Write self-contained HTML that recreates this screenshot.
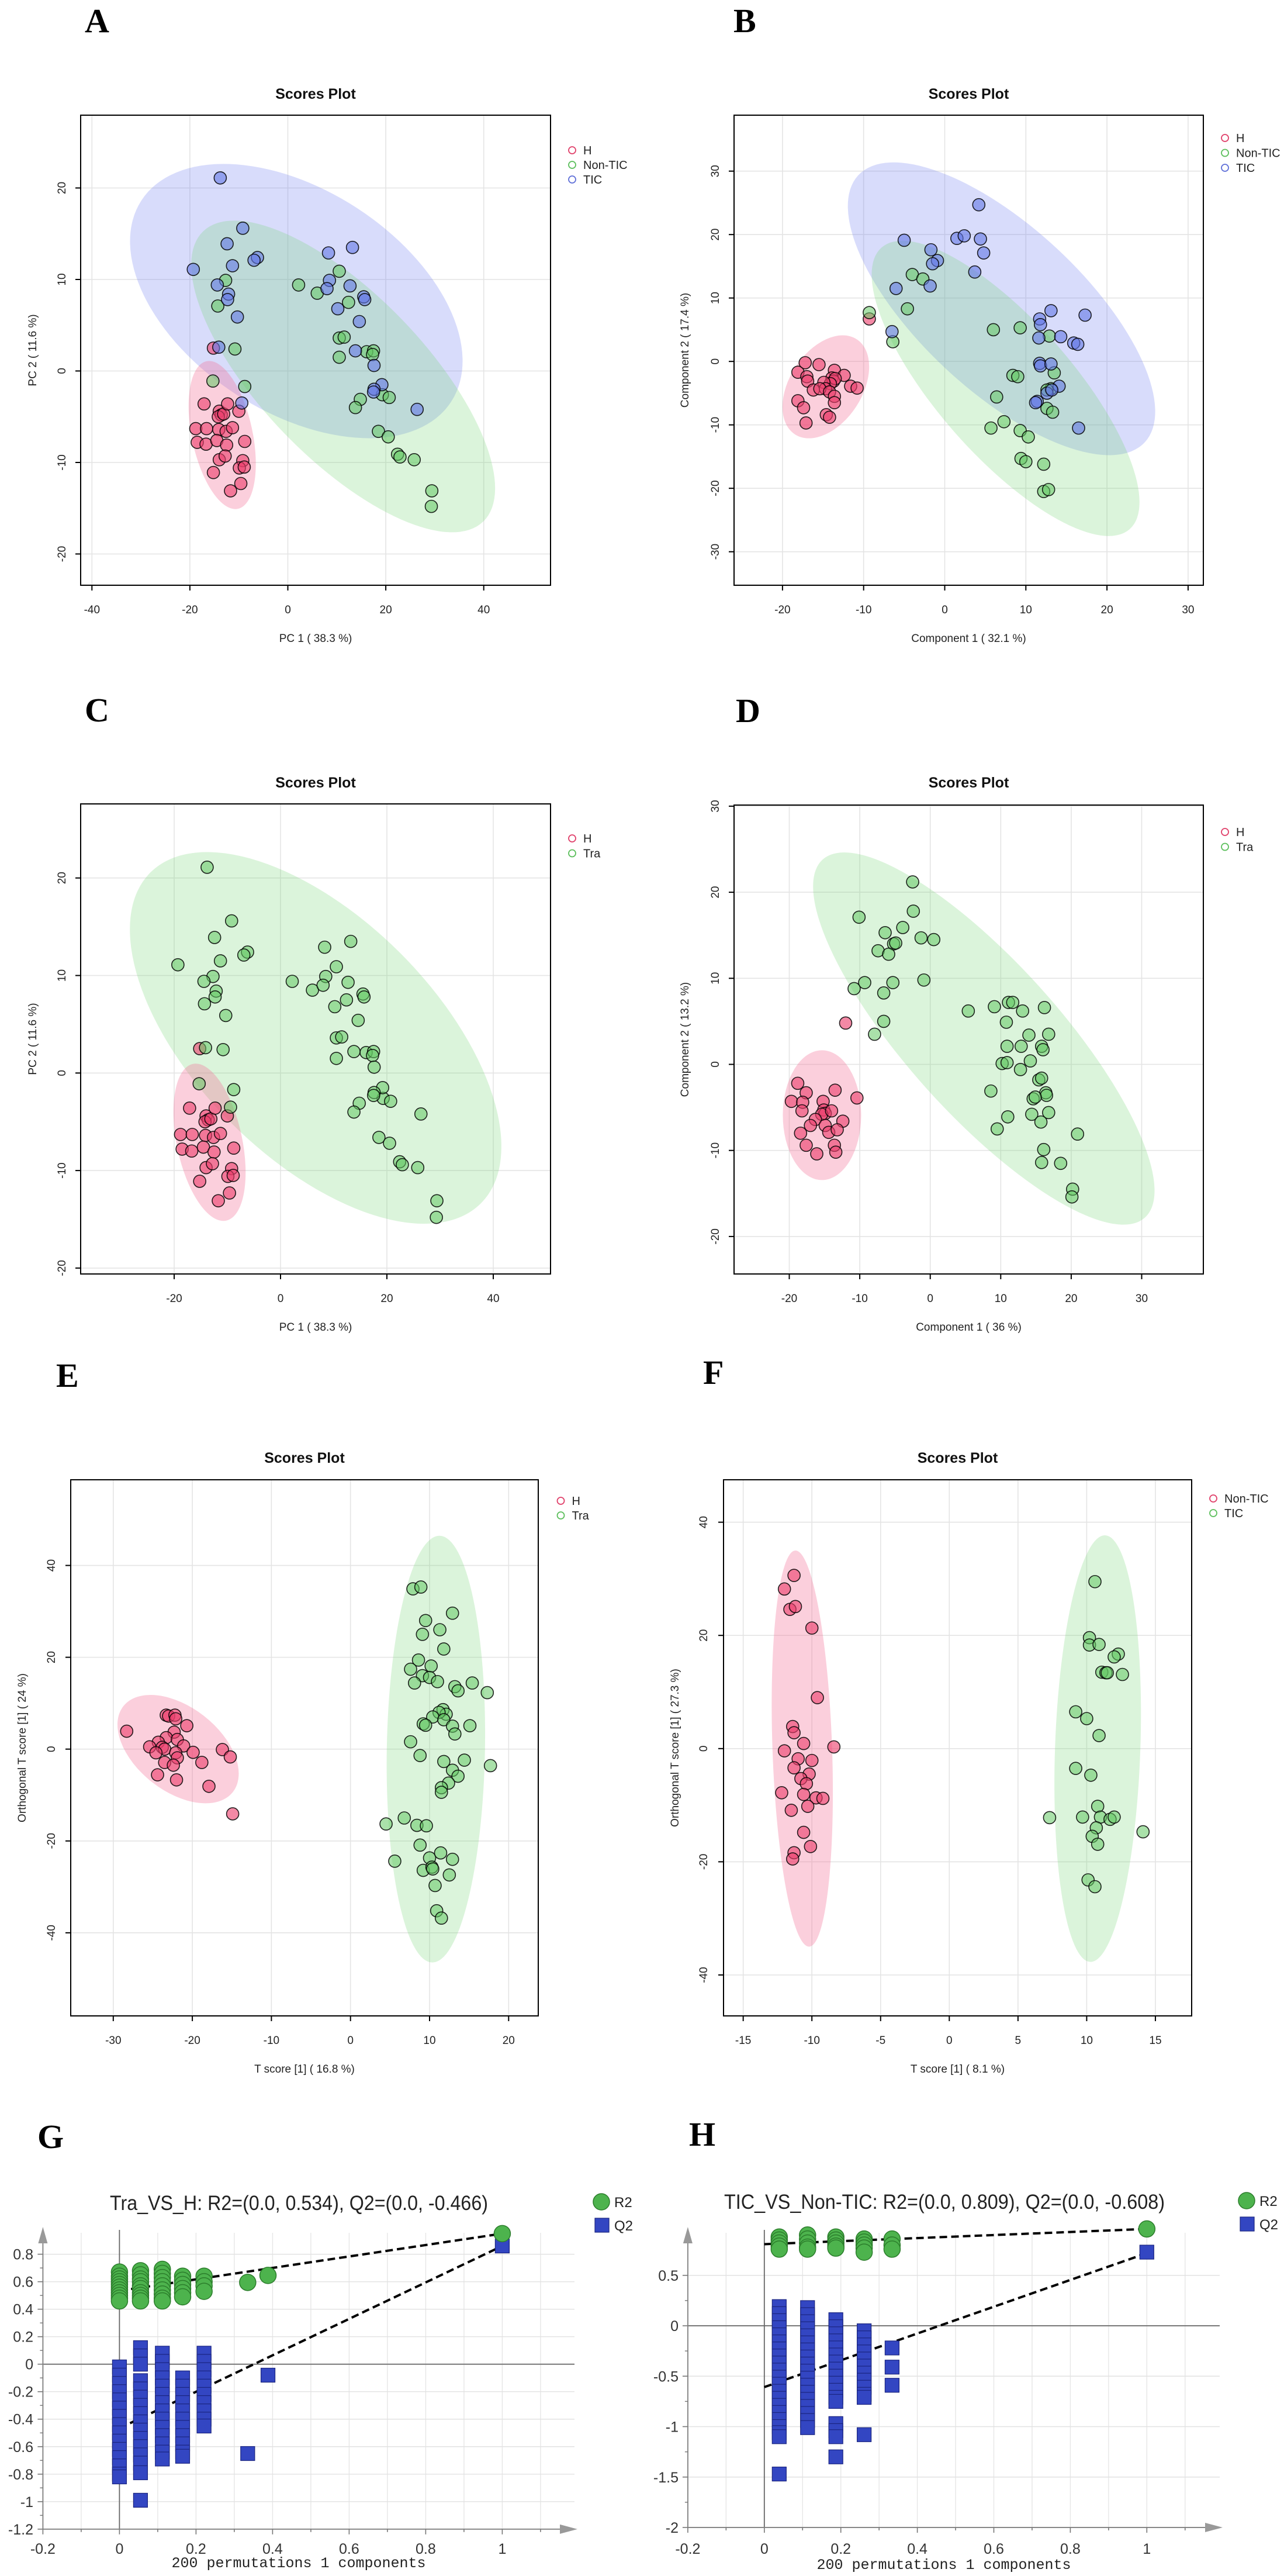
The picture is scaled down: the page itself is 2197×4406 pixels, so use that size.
<!DOCTYPE html>
<html><head><meta charset="utf-8"><title>Scores plots and permutation tests</title>
<style>
html,body{margin:0;padding:0;background:#fff;}
svg{display:block;font-family:"Liberation Sans",Arial,sans-serif;}
</style></head>
<body>
<svg id="fig" width="2197" height="4406" viewBox="0 0 2197 4406" xmlns="http://www.w3.org/2000/svg">
<rect x="0" y="0" width="2197" height="4406" fill="#fff"/>
</svg>
<script>
// ---------- Panel A (PCA, 3 groups) ----------
const A_H_x = [-15.2,-17.1,-14.0,-13.6,-14.2,-13.1,-12.3,-10.0,-18.8,-16.6,-14.1,-12.6,-11.3,-18.5,-16.7,-14.5,-12.5,-8.8,-14.0,-12.8,-9.2,-9.9,-8.9,-15.2,-9.6,-11.7];
const A_H_y = [2.5,-3.6,-4.4,-4.8,-5.0,-4.7,-3.6,-4.4,-6.3,-6.3,-6.4,-6.6,-6.2,-7.8,-8.0,-7.6,-8.1,-7.7,-9.7,-9.3,-9.8,-10.6,-10.5,-11.1,-12.3,-13.1];
const A_N_x = [-12.7,-14.3,-10.8,-15.3,-8.8,2.2,6.0,10.5,12.4,10.5,11.5,10.5,16.1,17.5,17.3,14.8,13.8,19.3,20.7,18.5,20.5,22.4,22.9,25.8,29.4,29.3];
const A_N_y = [9.9,7.1,2.4,-1.1,-1.7,9.4,8.5,10.9,7.5,3.6,3.7,1.5,2.1,2.2,1.8,-3.1,-4.0,-2.6,-2.9,-6.6,-7.2,-9.1,-9.4,-9.7,-13.1,-14.8];
const A_T_x = [-13.8,-9.2,-12.4,-6.2,-6.9,-19.3,-11.3,-14.4,-12.1,-12.3,-10.3,-14.1,-9.4,8.3,13.2,8.5,8.0,12.7,15.5,15.7,10.2,14.6,13.8,17.6,19.2,17.6,17.5,26.4];
const A_T_y = [21.1,15.6,13.9,12.4,12.1,11.1,11.5,9.4,8.4,7.8,5.9,2.6,-3.5,12.9,13.5,9.9,9.0,9.3,8.1,7.8,6.8,5.4,2.2,0.6,-1.5,-2.0,-2.3,-4.2];
// ---------- Panel B (PLS-DA, 3 groups) ----------
const B_H_x = [-9.3,-17.2,-15.5,-18.1,-17.0,-16.9,-13.6,-12.4,-13.9,-13.7,-13.5,-14.1,-14.9,-14.7,-16.2,-15.4,-11.6,-10.8,-14.2,-13.6,-13.6,-18.1,-17.4,-14.6,-14.2,-17.1];
const B_H_y = [6.7,-0.2,-0.5,-1.7,-2.4,-3.1,-1.4,-2.2,-2.6,-3.1,-2.7,-3.5,-3.3,-4.3,-4.5,-4.3,-3.9,-4.2,-4.8,-5.5,-6.5,-6.2,-7.3,-8.4,-8.8,-9.7];
const B_N_x = [-9.3,-4.0,-2.7,-4.6,-6.4,6.0,9.3,12.9,13.5,8.4,9.0,13.1,12.6,6.4,12.6,13.3,7.3,5.7,9.3,10.3,9.4,10.0,12.2,12.2,12.8];
const B_N_y = [7.7,13.7,13.0,8.3,3.1,5.0,5.3,4.0,-1.8,-2.2,-2.4,-4.3,-4.5,-5.6,-7.4,-8.0,-9.5,-10.5,-10.9,-11.9,-15.3,-15.8,-16.2,-20.5,-20.2];
const B_T_x = [4.2,-5.0,1.5,2.4,4.4,4.8,-1.7,-0.9,-1.5,3.7,-1.8,-6.0,13.1,17.3,11.7,11.8,11.6,14.3,15.9,16.4,-6.5,11.7,11.8,13.1,14.1,12.6,13.2,11.4,11.2,16.5];
const B_T_y = [24.7,19.1,19.4,19.8,19.3,17.1,17.6,15.9,15.4,14.1,11.9,11.5,8.0,7.3,6.7,5.8,3.7,3.9,2.9,2.7,4.7,-0.3,-0.7,-0.4,-3.9,-5.0,-4.5,-6.3,-6.5,-10.5];
// ---------- Panel C (PCA, H vs Tra) ----------
const C_H_x = A_H_x.slice();
const C_H_y = A_H_y.slice();
const C_T_x = A_N_x.concat(A_T_x);
const C_T_y = A_N_y.concat(A_T_y);
// ---------- Panel D (PLS-DA, H vs Tra) ----------
const D_H_x = [-12.0,-18.8,-19.7,-17.6,-18.1,-18.2,-13.5,-15.2,-10.4,-15.1,-14.9,-15.4,-14.0,-16.3,-17.0,-14.9,-12.4,-14.4,-13.2,-18.4,-17.6,-13.6,-13.4,-16.1];
const D_H_y = [4.8,-2.2,-4.3,-3.3,-4.4,-5.4,-3.0,-4.3,-3.9,-5.3,-5.7,-5.8,-5.4,-6.4,-7.1,-7.1,-6.6,-7.9,-7.6,-8.0,-9.4,-9.4,-10.2,-10.4];
const D_T_x = [-2.5,-2.4,-10.1,-3.9,-6.4,-1.3,0.5,-5.2,-4.9,-7.4,-5.9,-9.3,-10.8,-5.3,-0.9,-6.6,-6.6,-7.9,5.4,9.1,11.1,11.7,13.1,16.2,10.8,14.0,16.8,10.9,12.9,15.8,16.0,10.2,10.9,14.2,12.8,15.4,15.8,8.6,16.4,16.5,14.6,14.9,16.8,14.4,11.0,15.7,9.5,20.9,16.1,15.8,18.5,20.2,20.1];
const D_T_y = [21.2,17.8,17.1,15.9,15.3,14.7,14.5,14.0,14.1,13.2,12.8,9.5,8.8,9.5,9.8,8.3,5.0,3.5,6.2,6.7,7.2,7.2,6.2,6.6,4.9,3.4,3.5,2.1,2.1,2.1,1.7,0.1,0.2,0.4,-0.6,-1.8,-1.6,-3.1,-3.3,-3.6,-4.0,-3.8,-5.6,-5.8,-6.1,-6.7,-7.5,-8.1,-9.9,-11.4,-11.5,-14.5,-15.4];
// ---------- Panel E (OPLS-DA, H vs Tra) ----------
const E_H_x = [-28.3,-23.3,-23.0,-22.2,-22.1,-20.7,-22.3,-23.3,-21.9,-24.3,-25.4,-23.8,-23.5,-21.1,-24.6,-22.1,-19.9,-21.9,-16.2,-15.2,-23.5,-22.4,-18.8,-24.4,-22.0,-17.9,-14.9];
const E_H_y = [3.9,7.4,7.2,7.4,6.6,5.1,3.7,2.5,2.1,1.5,0.5,0.4,0,0.7,-0.8,-0.8,-0.7,-1.9,-0.1,-1.7,-2.9,-3.5,-2.9,-5.6,-6.7,-8.1,-14.1];
const E_T_x = [7.9,8.9,12.9,9.5,11.3,9.1,11.8,8.6,10.2,7.6,9.1,10.0,11.0,8.1,15.4,13.2,13.6,17.3,11.7,12.1,11.2,10.4,11.8,9.2,9.5,12.9,15.1,13.2,7.6,8.8,11.8,14.4,17.7,12.9,13.6,12.4,11.5,11.5,4.5,6.8,8.4,9.6,8.8,5.6,10.0,11.4,12.9,9.2,10.3,10.4,12.5,10.7,10.9,11.5];
const E_T_y = [34.9,35.3,29.6,28.0,26.0,25.0,21.8,19.4,18.1,17.4,16.0,15.6,14.7,14.4,14.4,13.6,12.7,12.3,8.6,7.6,8.0,7.0,6.4,5.5,5.2,5.0,5.1,3.3,1.6,-1.4,-2.7,-2.4,-3.6,-4.6,-5.9,-7.4,-8.4,-9.4,-16.3,-15.0,-16.6,-16.7,-20.9,-24.4,-23.7,-22.6,-24.0,-26.4,-25.7,-26.1,-27.4,-29.7,-35.2,-36.8];
// ---------- Panel F (OPLS-DA, Non-TIC vs TIC) ----------
const F_N_x = [-11.3,-12.0,-11.6,-11.2,-10.0,-9.6,-11.4,-11.3,-10.6,-8.4,-12.0,-11.0,-10.0,-11.3,-10.2,-10.8,-10.4,-12.2,-10.6,-9.7,-9.2,-10.3,-11.5,-10.6,-10.1,-11.3,-11.4];
const F_N_y = [30.6,28.2,24.6,25.1,21.3,9.0,3.9,2.8,0.9,0.3,-0.4,-1.8,-2.1,-3.4,-4.5,-5.3,-6.2,-7.8,-8.1,-8.7,-8.8,-10.2,-10.9,-14.8,-17.3,-18.4,-19.5];
const F_T_x = [10.6,10.2,10.2,10.9,12.3,12.0,11.1,11.4,11.5,12.6,9.2,10.0,10.9,9.2,10.3,10.8,7.3,9.7,11.0,11.7,12.0,10.7,10.4,10.8,14.1,10.1,10.6];
const F_T_y = [29.5,19.6,18.3,18.4,16.7,16.2,13.5,13.4,13.4,13.1,6.5,5.3,2.3,-3.5,-4.7,-10.2,-12.2,-12.1,-12.1,-12.5,-12.1,-14.0,-15.5,-16.9,-14.7,-23.2,-24.4];
// ---------- Panel G (permutation Tra vs H) ----------
const G_R2_pos = [0,0.055,0.112,0.165,0.221,0.335,0.388,1.0];
const G_R2_vals = [[0.67,0.64,0.62,0.6,0.58,0.56,0.54,0.52,0.5,0.48,0.46],[0.68,0.65,0.62,0.6,0.57,0.55,0.52,0.5,0.48,0.46],[0.69,0.66,0.63,0.6,0.57,0.54,0.51,0.48,0.46],[0.64,0.61,0.58,0.55,0.52,0.49],[0.64,0.6,0.57,0.53],[0.595],[0.646],[0.95]];
const G_Q2_pos = [0,0.055,0.112,0.165,0.221,0.335,0.388,1.0];
const G_Q2_vals = [[-0.02,-0.08,-0.14,-0.2,-0.26,-0.32,-0.38,-0.44,-0.5,-0.56,-0.62,-0.68,-0.74,-0.8,-0.82],[0.12,0.06,0.0,-0.12,-0.18,-0.24,-0.3,-0.36,-0.42,-0.48,-0.54,-0.6,-0.66,-0.72,-0.79,-0.99],[0.08,0.02,-0.04,-0.1,-0.16,-0.22,-0.28,-0.34,-0.4,-0.46,-0.52,-0.58,-0.64,-0.69],[-0.1,-0.16,-0.22,-0.28,-0.34,-0.4,-0.46,-0.52,-0.58,-0.64,-0.67],[0.08,0.02,-0.04,-0.1,-0.16,-0.22,-0.28,-0.34,-0.4,-0.45],[-0.65],[-0.08],[0.86]];
const G_R2_line = [0.534,0.95];
const G_Q2_line = [-0.466,0.86];
const G_yticks = [-1.2,-1,-0.8,-0.6,-0.4,-0.2,0,0.2,0.4,0.6,0.8];
const G_xticks = [-0.2,0,0.2,0.4,0.6,0.8,1];
// ---------- Panel H (permutation TIC vs Non-TIC) ----------
const H_R2_pos = [0.039,0.113,0.187,0.261,0.334,1.0];
const H_R2_vals = [[0.88,0.85,0.82,0.79,0.76],[0.9,0.86,0.82,0.78,0.76],[0.88,0.85,0.82,0.79,0.77],[0.86,0.83,0.8,0.77,0.73],[0.86,0.8,0.76],[0.96]];
const H_Q2_pos = [0.039,0.113,0.187,0.261,0.334,1.0];
const H_Q2_vals = [[0.19,0.12,0.05,-0.02,-0.09,-0.16,-0.23,-0.3,-0.37,-0.44,-0.51,-0.58,-0.65,-0.72,-0.79,-0.86,-0.93,-1.0,-1.06,-1.1,-1.47],[0.18,0.11,0.04,-0.03,-0.1,-0.17,-0.24,-0.31,-0.38,-0.45,-0.52,-0.59,-0.66,-0.73,-0.8,-0.87,-0.94,-1.01],[0.06,-0.01,-0.08,-0.15,-0.22,-0.29,-0.36,-0.43,-0.5,-0.57,-0.64,-0.71,-0.75,-0.97,-1.04,-1.1,-1.3],[-0.05,-0.12,-0.19,-0.26,-0.33,-0.4,-0.47,-0.54,-0.61,-0.68,-0.71,-1.08],[-0.22,-0.41,-0.59],[0.73]];
const H_R2_line = [0.809,0.96];
const H_Q2_line = [-0.608,0.72];
const H_yticks = [-2,-1.5,-1,-0.5,0,0.5];
const H_xticks = [-0.2,0,0.2,0.4,0.6,0.8,1];

const NS = 'http://www.w3.org/2000/svg';
const svg = document.getElementById('fig');
function mk(tag, attrs, parent){
  const e = document.createElementNS(NS, tag);
  for (const k in attrs) e.setAttribute(k, attrs[k]);
  (parent || svg).appendChild(e);
  return e;
}
const COL = {
  red:  {pt:'rgba(236,64,110,0.62)', ell:'rgba(244,110,150,0.33)', leg:'#e0406a'},
  green:{pt:'rgba(100,200,100,0.55)', ell:'rgba(110,210,110,0.25)', leg:'#5cbf5c'},
  blue: {pt:'rgba(100,120,230,0.60)', ell:'rgba(110,125,240,0.27)', leg:'#6070d8'}
};
function fmt(v){ return String(v); }

function panelLetter(ch, x, y){
  const t = mk('text', {x:x, y:y, 'font-family':'"Liberation Serif","Times New Roman",serif', 'font-weight':'bold', 'font-size':58, fill:'#000'});
  
  
  t.textContent = ch;
}

function scatterPanel(p){
  const g = mk('g', {});
  
  
  const X = v => p.x0 + p.xs * v;
  const Y = v => p.y0 - p.ys * v;
  const clip = mk('clipPath', {id:'clip-' + p.name}, g);
  mk('rect', {x:p.l, y:p.t, width:p.r - p.l, height:p.b - p.t}, clip);
  // grid
  const grid = mk('g', {stroke:'#e4e4e4', 'stroke-width':1.6}, g);
  
  
  p.xticks.forEach(t => {
    const l = mk('line', {x1:X(t), x2:X(t), y1:p.t, y2:p.b}, grid);
    
    
  });
  p.yticks.forEach(t => {
    const l = mk('line', {x1:p.l, x2:p.r, y1:Y(t), y2:Y(t)}, grid);
    
    
  });
  // ellipses
  const eg = mk('g', {'clip-path':'url(#clip-' + p.name + ')'}, g);
  p.ell.forEach(e => {
    const el = mk('ellipse', {cx:0, cy:0, rx:e.a, ry:e.b, fill:COL[e.c].ell, transform:'translate(' + X(e.cx) + ',' + Y(e.cy) + ') rotate(' + e.th + ')'}, eg);
    
    
  });
  // points
  p.series.forEach(s => {
    const sg = mk('g', {}, g);
    
    
    const n = Math.min(s.xs.length, s.ys.length);
    for (let i = 0; i < n; i++){
      const c = mk('circle', {cx:X(s.xs[i]), cy:Y(s.ys[i]), r:10.5, fill:COL[s.c].pt, stroke:'rgba(0,0,0,0.85)', 'stroke-width':1.6}, sg);
      
      
    }
  });
  // box
  const box = mk('rect', {x:p.l, y:p.t, width:p.r - p.l, height:p.b - p.t, fill:'none', stroke:'#000', 'stroke-width':2}, g);
  
  
  // x axis ticks + labels
  p.xticks.forEach(t => {
    const tk = mk('line', {x1:X(t), x2:X(t), y1:p.b, y2:p.b + 9, stroke:'#000', 'stroke-width':2}, g);
    
    
    const tl = mk('text', {x:X(t), y:p.b + 48, 'font-size':19, 'text-anchor':'middle', fill:'#222'}, g);
    
    
    tl.textContent = fmt(t);
  });
  p.yticks.forEach(t => {
    const tk = mk('line', {x1:p.l - 9, x2:p.l, y1:Y(t), y2:Y(t), stroke:'#000', 'stroke-width':2}, g);
    
    
    const tl = mk('text', {x:0, y:0, 'font-size':19, 'text-anchor':'middle', fill:'#222', transform:'translate(' + (p.ytx + 7) + ',' + Y(t) + ') rotate(-90)'}, g);
    
    
    tl.textContent = fmt(t);
  });
  const xt = mk('text', {x:(p.l + p.r) / 2, y:p.b + 97, 'font-size':19, 'text-anchor':'middle', fill:'#222'}, g);
  
  
  xt.textContent = p.xlabel;
  const yt = mk('text', {x:0, y:0, 'font-size':19, 'text-anchor':'middle', fill:'#222', transform:'translate(' + (p.ylx + 7) + ',' + ((p.t + p.b) / 2) + ') rotate(-90)'}, g);
  
  
  yt.textContent = p.ylabel;
  const tt = mk('text', {x:(p.l + p.r) / 2, y:p.ty + 9, 'font-size':25, 'font-weight':'bold', 'text-anchor':'middle', fill:'#111'}, g);
  
  
  tt.textContent = 'Scores Plot';
  // legend
  p.legend.forEach((L, i) => {
    const lg = mk('g', {}, g);
    
    
    mk('circle', {cx:p.lgx, cy:p.lgy + i * p.lgd, r:6, fill:'none', stroke:COL[L.c].leg, 'stroke-width':1.8}, lg);
    const lt = mk('text', {x:p.lgx + 19, y:p.lgy + i * p.lgd + 7, 'font-size':20, fill:'#222'}, lg);
    lt.textContent = L.label;
  });
}

function permPanel(p){
  const g = mk('g', {});
  
  
  const X = v => p.x0 + p.xs * v;
  const Y = v => p.y0 - p.ys * v;
  const ax = X(-0.2), ay = Y(p.ymin);
  // vertical grid every 0.1
  for (let k = -1; k <= 11; k++){
    const v = k / 10;
    if (Math.abs(v) < 1e-9) continue;
    const l = mk('line', {x1:X(v), x2:X(v), y1:p.top + 10, y2:ay, stroke:'#e6e6e6', 'stroke-width':1.4}, g);
    
    
  }
  p.yticks.forEach(t => {
    if (t === p.ymin) return;
    const l = mk('line', {x1:ax, x2:p.right - 5, y1:Y(t), y2:Y(t), stroke: t === 0 ? '#777' : '#e2e2e2', 'stroke-width': t === 0 ? 2 : 1.4}, g);
    
    
  });
  const zl = mk('line', {x1:X(0), x2:X(0), y1:p.top + 5, y2:ay, stroke:'#666', 'stroke-width':1.8}, g);
  
  
  // axes
  const yax = mk('line', {x1:ax, x2:ax, y1:p.top + 20, y2:ay, stroke:'#888', 'stroke-width':2}, g);
  
  
  const yarr = mk('polygon', {points:(ax - 8) + ',' + (p.top + 28) + ' ' + (ax + 8) + ',' + (p.top + 28) + ' ' + ax + ',' + p.top, fill:'#999'}, g);
  
  
  const xax = mk('line', {x1:ax, x2:p.right - 20, y1:ay, y2:ay, stroke:'#888', 'stroke-width':2}, g);
  
  
  const xarr = mk('polygon', {points:(p.right - 30) + ',' + (ay - 8) + ' ' + (p.right - 30) + ',' + (ay + 8) + ' ' + p.right + ',' + ay, fill:'#999'}, g);
  
  
  // ticks
  for (let k = -2; k <= 11; k++){
    const v = k / 10, major = (k % 2 === 0);
    const tk = mk('line', {x1:X(v), x2:X(v), y1:ay, y2:ay + (major ? 9 : 5), stroke:'#777', 'stroke-width':1.6}, g);
    
    
  }
  p.xticks.forEach(t => {
    const tl = mk('text', {x:X(t), y:p.xly + 9, 'font-size':25, 'text-anchor':'middle', fill:'#333'}, g);
    
    
    tl.textContent = fmt(t);
  });
  p.yticks.forEach((t, i) => {
    const tk = mk('line', {x1:ax - 9, x2:ax, y1:Y(t), y2:Y(t), stroke:'#777', 'stroke-width':1.6}, g);
    
    
    if (i > 0){
      const mid = (t + p.yticks[i - 1]) / 2;
      const mt = mk('line', {x1:ax - 5, x2:ax, y1:Y(mid), y2:Y(mid), stroke:'#777', 'stroke-width':1.4}, g);
      
      
    }
    const tl = mk('text', {x:p.ylx, y:Y(t) + 9, 'font-size':25, 'text-anchor':'end', fill:'#333'}, g);
    
    
    tl.textContent = fmt(t);
  });
  // regression lines
  const rl = mk('line', {x1:X(0), y1:Y(p.r2line[0]), x2:X(1), y2:Y(p.r2line[1]), stroke:'#000', 'stroke-width':4, 'stroke-dasharray':'13 7'}, g);
  
  
  const ql = mk('line', {x1:X(0), y1:Y(p.q2line[0]), x2:X(1), y2:Y(p.q2line[1]), stroke:'#000', 'stroke-width':4, 'stroke-dasharray':'13 7'}, g);
  
  
  // Q2 squares
  const qg = mk('g', {}, g);
  
  
  p.q2pos.forEach((xv, i) => {
    p.q2vals[i].forEach(v => {
      const s = mk('rect', {x:X(xv) - 12, y:Y(v) - 12, width:24, height:24, fill:'#3346c2', stroke:'#1b2580', 'stroke-width':1.2}, qg);
      
      
    });
  });
  // R2 circles
  const cg = mk('g', {}, g);
  
  
  p.r2pos.forEach((xv, i) => {
    p.r2vals[i].forEach(v => {
      const c = mk('circle', {cx:X(xv), cy:Y(v), r:14, fill:'#4db34d', stroke:'#2b7d2b', 'stroke-width':1.5}, cg);
      
      
    });
  });
  // title
  const tt = mk('text', {x:p.tx, y:p.ty + 12, 'font-size':35, fill:'#222', textLength:p.tw, lengthAdjust:'spacingAndGlyphs'}, g);
  
  
  tt.textContent = p.title;
  // legend
  const l1 = mk('g', {}, g);
  
  
  mk('circle', {cx:p.lgx, cy:p.lgy, r:14, fill:'#4db34d', stroke:'#2b7d2b', 'stroke-width':1.5}, l1);
  const t1 = mk('text', {x:p.lgx + 22, y:p.lgy + 9, 'font-size':24, fill:'#222'}, l1);
  t1.textContent = 'R2';
  const l2 = mk('g', {}, g);
  
  
  mk('rect', {x:p.lgx - 11, y:p.lgy + 28, width:24, height:24, fill:'#3346c2', stroke:'#1b2580', 'stroke-width':1.2}, l2);
  const t2 = mk('text', {x:p.lgx + 22, y:p.lgy + 49, 'font-size':24, fill:'#222'}, l2);
  t2.textContent = 'Q2';
  const bt = mk('text', {x:p.btx, y:p.bty + 9, 'font-size':25, 'font-family':'"Liberation Mono",monospace', 'text-anchor':'middle', fill:'#222'}, g);
  
  
  bt.textContent = '200 permutations 1 components';
}

// ---- Build ----
panelLetter('A', 145, 55);
scatterPanel({name:'panel-a-scores-plot', l:138, r:942, t:197, b:1001, x0:492.5, xs:8.38, y0:634.5, ys:15.65,
  xticks:[-40,-20,0,20,40], yticks:[-20,-10,0,10,20], ytx:105, ylx:55, ty:160,
  xlabel:'PC 1 ( 38.3 %)', ylabel:'PC 2 ( 11.6 %)',
  ell:[{label:'tic', c:'blue', cx:1.73, cy:7.64, a:316, b:190, th:33},
       {label:'non-tic', c:'green', cx:11.3, cy:-0.6, a:345, b:140, th:46},
       {label:'h', c:'red', cx:-13.4, cy:-7.0, a:129, b:52, th:78}],
  series:[{label:'h', c:'red', xs:A_H_x, ys:A_H_y},{label:'non-tic', c:'green', xs:A_N_x, ys:A_N_y},{label:'tic', c:'blue', xs:A_T_x, ys:A_T_y}],
  legend:[{label:'H', c:'red'},{label:'Non-TIC', c:'green'},{label:'TIC', c:'blue'}], lgx:979, lgy:257, lgd:25});

panelLetter('B', 1255, 55);
scatterPanel({name:'panel-b-scores-plot', l:1256, r:2059, t:197, b:1001, x0:1616.5, xs:13.88, y0:618.2, ys:10.85,
  xticks:[-20,-10,0,10,20,30], yticks:[-30,-20,-10,0,10,20,30], ytx:1223, ylx:1171, ty:160,
  xlabel:'Component 1 ( 32.1 %)', ylabel:'Component 2 ( 17.4 %)',
  ell:[{label:'tic', c:'blue', cx:7.0, cy:8.3, a:335, b:140, th:43},
       {label:'non-tic', c:'green', cx:7.5, cy:-4.25, a:321, b:115, th:48.6},
       {label:'h', c:'red', cx:-14.66, cy:-4.0, a:97, b:62, th:-57}],
  series:[{label:'h', c:'red', xs:B_H_x, ys:B_H_y},{label:'non-tic', c:'green', xs:B_N_x, ys:B_N_y},{label:'tic', c:'blue', xs:B_T_x, ys:B_T_y}],
  legend:[{label:'H', c:'red'},{label:'Non-TIC', c:'green'},{label:'TIC', c:'blue'}], lgx:2096, lgy:236, lgd:25.5});

panelLetter('C', 145, 1234);
scatterPanel({name:'panel-c-scores-plot', l:138, r:942, t:1375, b:2179, x0:480, xs:9.1, y0:1835.3, ys:16.68,
  xticks:[-20,0,20,40], yticks:[-20,-10,0,10,20], ytx:105, ylx:55, ty:1338,
  xlabel:'PC 1 ( 38.3 %)', ylabel:'PC 2 ( 11.6 %)',
  ell:[{label:'tra', c:'green', cx:6.6, cy:3.6, a:400, b:205, th:45},
       {label:'h', c:'red', cx:-13.35, cy:-7.1, a:137, b:56, th:78}],
  series:[{label:'h', c:'red', xs:C_H_x, ys:C_H_y},{label:'tra', c:'green', xs:C_T_x, ys:C_T_y}],
  legend:[{label:'H', c:'red'},{label:'Tra', c:'green'}], lgx:979, lgy:1434, lgd:25.5});

panelLetter('D', 1259, 1235);
scatterPanel({name:'panel-d-scores-plot', l:1256, r:2059, t:1377, b:2179, x0:1591.7, xs:12.06, y0:1820.5, ys:14.72,
  xticks:[-20,-10,0,10,20,30], yticks:[-20,-10,0,10,20,30], ytx:1223, ylx:1171, ty:1338,
  xlabel:'Component 1 ( 36 %)', ylabel:'Component 2 ( 13.2 %)',
  ell:[{label:'tra', c:'green', cx:7.6, cy:3.0, a:412, b:130, th:48},
       {label:'h', c:'red', cx:-15.36, cy:-5.9, a:111, b:67, th:90}],
  series:[{label:'h', c:'red', xs:D_H_x, ys:D_H_y},{label:'tra', c:'green', xs:D_T_x, ys:D_T_y}],
  legend:[{label:'H', c:'red'},{label:'Tra', c:'green'}], lgx:2096, lgy:1423, lgd:25.5});

panelLetter('E', 96, 2372);
scatterPanel({name:'panel-e-scores-plot', l:121, r:921, t:2531, b:3448, x0:599.7, xs:13.53, y0:2991.7, ys:7.854,
  xticks:[-30,-20,-10,0,10,20], yticks:[-40,-20,0,20,40], ytx:87, ylx:37, ty:2493,
  xlabel:'T score [1] ( 16.8 %)', ylabel:'Orthogonal T score [1] ( 24 %)',
  ell:[{label:'tra', c:'green', cx:10.8, cy:0, a:365, b:84, th:91},
       {label:'h', c:'red', cx:-21.8, cy:0, a:119, b:72, th:38}],
  series:[{label:'h', c:'red', xs:E_H_x, ys:E_H_y},{label:'tra', c:'green', xs:E_T_x, ys:E_T_y}],
  legend:[{label:'H', c:'red'},{label:'Tra', c:'green'}], lgx:959.5, lgy:2567, lgd:25});

panelLetter('F', 1203, 2367);
scatterPanel({name:'panel-f-scores-plot', l:1238, r:2039, t:2531, b:3448, x0:1624.3, xs:23.51, y0:2990.8, ys:9.68,
  xticks:[-15,-10,-5,0,5,10,15], yticks:[-40,-20,0,20,40], ytx:1203, ylx:1154, ty:2493,
  xlabel:'T score [1] ( 8.1 %)', ylabel:'Orthogonal T score [1] ( 27.3 %)',
  ell:[{label:'non-tic', c:'red', cx:-10.7, cy:0, a:339, b:51, th:88},
       {label:'tic', c:'green', cx:10.8, cy:0, a:365, b:73, th:92}],
  series:[{label:'non-tic', c:'red', xs:F_N_x, ys:F_N_y},{label:'tic', c:'green', xs:F_T_x, ys:F_T_y}],
  legend:[{label:'Non-TIC', c:'red'},{label:'TIC', c:'green'}], lgx:2076, lgy:2563, lgd:25});

panelLetter('G', 64, 3674);
permPanel({name:'panel-g-permutation-test', x0:204.4, xs:655, y0:4043.7, ys:235.1, ymin:-1.2, top:3809, right:988,
  yticks:G_yticks, xticks:G_xticks, ylx:57, xly:4359,
  r2pos:G_R2_pos, r2vals:G_R2_vals, q2pos:G_Q2_pos, q2vals:G_Q2_vals, r2line:G_R2_line, q2line:G_Q2_line,
  title:'Tra_VS_H: R2=(0.0, 0.534), Q2=(0.0, -0.466)', tx:188, ty:3768, tw:647,
  lgx:1029, lgy:3766, btx:511, bty:4382});

panelLetter('H', 1179, 3670);
permPanel({name:'panel-h-permutation-test', x0:1307.8, xs:654.5, y0:3978, ys:172.5, ymin:-2, top:3809, right:2092,
  yticks:H_yticks, xticks:H_xticks, ylx:1161, xly:4359,
  r2pos:H_R2_pos, r2vals:H_R2_vals, q2pos:H_Q2_pos, q2vals:H_Q2_vals, r2line:H_R2_line, q2line:H_Q2_line,
  title:'TIC_VS_Non-TIC: R2=(0.0, 0.809), Q2=(0.0, -0.608)', tx:1239, ty:3766, tw:754,
  lgx:2133, lgy:3764, btx:1615, bty:4385});
</script>
</body></html>
